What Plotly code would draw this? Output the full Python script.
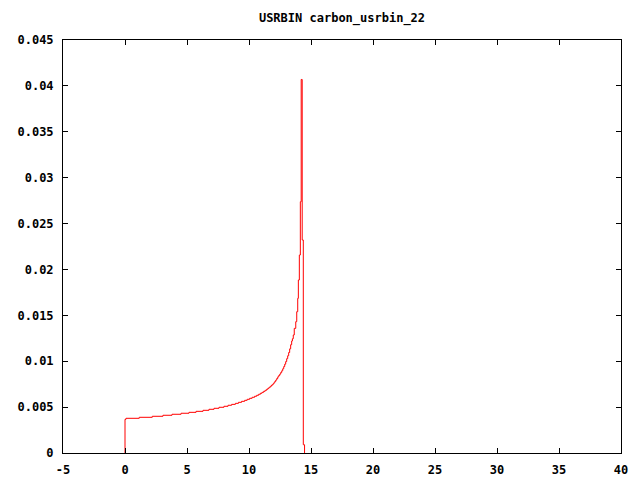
import plotly.graph_objects as go

# Step (histogram) data: left edge of each level and its value
step_edges = [0.00, 0.08, 1.15, 2.20, 3.06, 3.79, 4.52, 5.16, 5.73, 6.29, 6.77, 7.18,
              7.58, 7.98, 8.31, 8.60, 8.90, 9.15, 9.40, 9.65, 9.85, 10.05, 10.25, 10.45,
              10.62, 10.78, 10.92, 11.05, 11.18, 11.30, 11.42, 11.52, 11.62, 11.72, 11.82,
              11.92, 12.00, 12.08, 12.16, 12.24, 12.32, 12.40, 12.48, 12.56, 12.64, 12.72,
              12.80, 12.88, 12.96, 13.04, 13.12, 13.20, 13.28, 13.36, 13.44, 13.50, 13.57,
              13.65, 13.77, 13.85, 13.93, 13.98, 14.06, 14.14, 14.21, 14.29, 14.38]
step_values = [0.00367, 0.00378, 0.00389, 0.00400, 0.00411, 0.00422, 0.00433, 0.00443,
               0.00454, 0.00465, 0.00476, 0.00487, 0.00498, 0.00509, 0.00520, 0.00530,
               0.00541, 0.00552, 0.00563, 0.00574, 0.00585, 0.00596, 0.00607, 0.00618,
               0.00629, 0.00640, 0.00651, 0.00661, 0.00672, 0.00683, 0.00694, 0.00705,
               0.00716, 0.00728, 0.00740, 0.00752, 0.00765, 0.00780, 0.00795, 0.00812,
               0.00830, 0.00845, 0.00860, 0.00878, 0.00896, 0.00918, 0.00942, 0.00968,
               0.00996, 0.01028, 0.01060, 0.01095, 0.01135, 0.01180, 0.01220, 0.01245,
               0.01286, 0.01358, 0.01431, 0.01540, 0.01685, 0.01885, 0.02157, 0.02738,
               0.04070, 0.02321, 0.00090]
end_edge = 14.48

x_ticks = [-5, 0, 5, 10, 15, 20, 25, 30, 35, 40]
y_ticks = [0, 0.005, 0.01, 0.015, 0.02, 0.025, 0.03, 0.035, 0.04, 0.045]
y_tick_text = ["0", "0.005", "0.01", "0.015", "0.02", "0.025", "0.03", "0.035", "0.04", "0.045"]
title_text = "USRBIN carbon_usrbin_22"

xs = [step_edges[0]] + step_edges + [end_edge]
ys = [0.0] + step_values + [0.0]

FONT = dict(family="DejaVu Sans Mono", size=12, color="black", weight="bold")

fig = go.Figure()
fig.add_trace(go.Scatter(x=xs, y=ys, mode="lines", line=dict(color="red", width=1, shape="hv"),
                         showlegend=False, hoverinfo="skip"))

axis_common = dict(showline=True, linecolor="black", linewidth=1, mirror="ticks",
                   ticks="inside", ticklen=5, tickcolor="black", tickwidth=1,
                   showgrid=False, zeroline=False, tickfont=FONT, automargin=False)

fig.update_xaxes(range=[-5, 40], tickvals=x_ticks, ticktext=[str(v) for v in x_ticks],
                 ticklabelstandoff=6, **axis_common)
fig.update_yaxes(range=[0, 0.045], tickvals=y_ticks, ticktext=y_tick_text,
                 ticklabelstandoff=6, **axis_common)

fig.update_layout(
    width=640, height=480, autosize=False,
    margin=dict(l=63, r=19, t=40, b=27, pad=0),
    paper_bgcolor="white", plot_bgcolor="white",
    font=FONT,
    title=dict(text=title_text, x=(63 + 621) / 2 / 640, xanchor="center",
               y=1 - 18 / 480, yanchor="middle", font=FONT),
)

fig.write_html("out.html", config={"displayModeBar": False},
               post_script="document.body.style.margin='0px';document.body.style.overflow='hidden';")
